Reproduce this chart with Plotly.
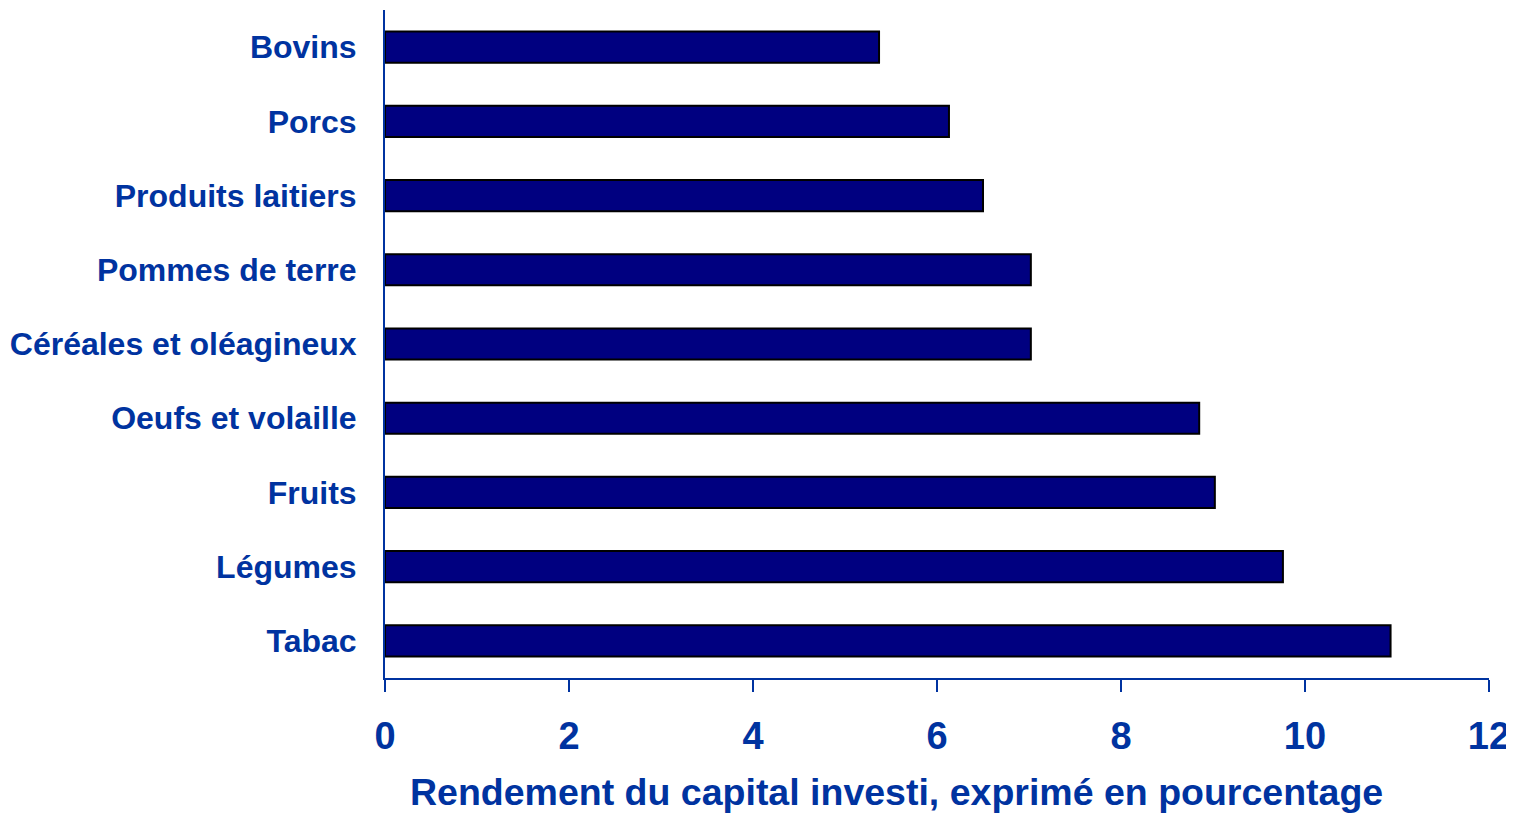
import plotly.graph_objects as go

categories = ["Bovins", "Porcs", "Produits laitiers", "Pommes de terre",
              "Céréales et oléagineux", "Oeufs et volaille", "Fruits", "Légumes", "Tabac"]
values = [5.37, 6.13, 6.50, 7.02, 7.02, 8.85, 9.02, 9.76, 10.93]
x_ticks = [0, 2, 4, 6, 8, 10, 12]
x_title = "Rendement du capital investi, exprimé en pourcentage"

blue = "#0033A0"
font = "Liberation Sans, Arial, sans-serif"

fig = go.Figure(go.Bar(
    x=values, y=categories, orientation="h",
    marker=dict(color="#000080", line=dict(color="black", width=2)),
))

# page body has an 8px margin: compensate so plot area lands at x 385..1489, y 10..678
fig.update_layout(
    width=1506, height=806,
    margin=dict(l=377, r=25, t=2, b=136),
    plot_bgcolor="white", paper_bgcolor="white",
    bargap=0.58, showlegend=False,
    font=dict(family=font, color=blue),
)
fig.update_xaxes(
    range=[0, 12], tickvals=x_ticks, ticktext=[str(v) for v in x_ticks],
    showgrid=False, zeroline=False,
    showline=True, linecolor=blue, linewidth=2,
    ticks="outside", ticklen=12, tickwidth=2, tickcolor=blue,
    ticklabelstandoff=11, ticklabeloverflow="allow",
    tickfont=dict(family=font, size=38, color=blue, weight="bold"),
)
fig.update_yaxes(
    autorange="reversed", showgrid=False, zeroline=False,
    showline=True, linecolor=blue, linewidth=2, ticks="",
    ticklabelstandoff=20,
    tickfont=dict(family=font, size=32, color=blue, weight="bold"),
)
fig.add_annotation(
    text="<b>" + x_title + "</b>", xref="paper", yref="paper",
    x=(896 - 385) / 1104, y=(678 - 792) / 668,
    xanchor="center", yanchor="middle", showarrow=False,
    font=dict(family=font, size=37.5, color=blue),
)

fig.write_html("out.html")
